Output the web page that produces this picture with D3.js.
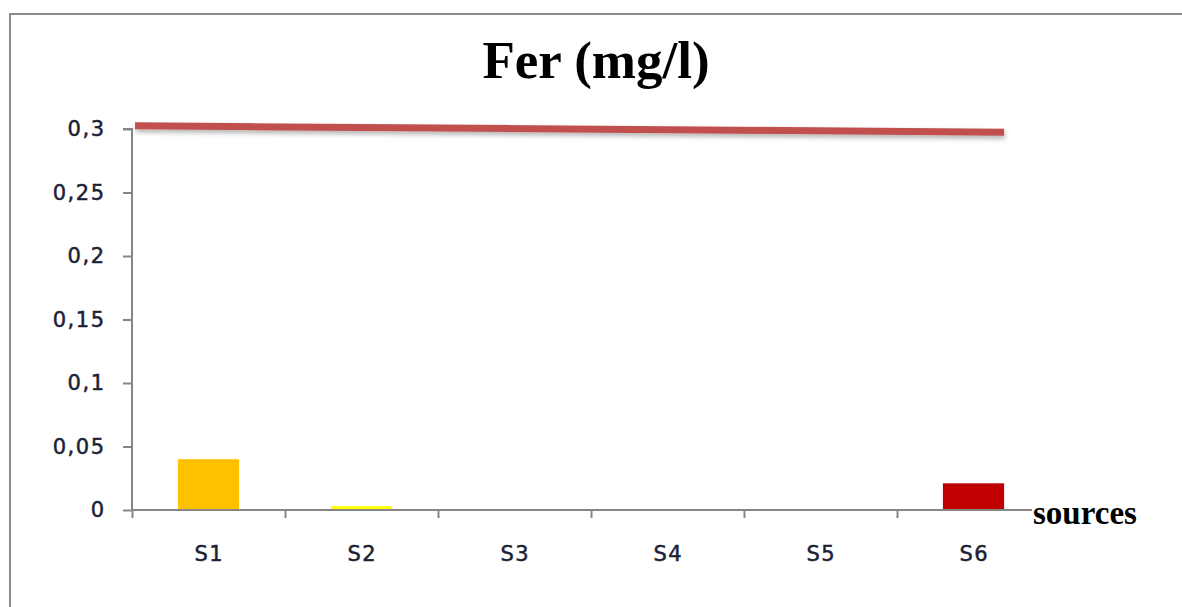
<!DOCTYPE html>
<html><head><meta charset="utf-8">
<script src="https://cdn.jsdelivr.net/npm/d3@7"></script>
<style>html,body{margin:0;padding:0;background:#fff;}svg{display:block;}</style>
</head><body>
<svg id="c" width="1182" height="607"></svg>
<script>
const categories = ["S1","S2","S3","S4","S5","S6"];
const values = [0.04, 0.003, 0, 0, 0, 0.021];
const barColors = ["#FFC000","#FFFF00","#FFC000","#FFC000","#FFC000","#C00000"];
const yTicks = [0, 0.05, 0.1, 0.15, 0.2, 0.25, 0.3];
const yTickLabels = ["0","0,05","0,1","0,15","0,2","0,25","0,3"];
// limit line: [category position (0..6), value]
const limitLine = [[0.02, 0.3025], [5.7, 0.2975]];
const title = "Fer (mg/l)";
const xTitle = "sources";

const svg = d3.select("#c");
const L = 132, R = 1050, T = 129, B = 510;
const labelFont = "'DejaVu Sans', Verdana, sans-serif";
const labelColor = "#1c2235";

const defs = svg.append("defs");
const f = defs.append("filter").attr("id","sh").attr("x","-5%").attr("y","-300%").attr("width","110%").attr("height","700%");
f.append("feGaussianBlur").attr("in","SourceAlpha").attr("stdDeviation",2.5);
f.append("feOffset").attr("dx",1).attr("dy",3).attr("result","b");
f.append("feComponentTransfer").append("feFuncA").attr("type","linear").attr("slope",0.3);
const m = f.append("feMerge"); m.append("feMergeNode"); m.append("feMergeNode").attr("in","SourceGraphic");

// frame
svg.append("path").attr("d","M10,607 V14 H1182").attr("fill","none").attr("stroke","#8a8a8a").attr("stroke-width",2);

const x = d3.scaleBand().domain(categories).range([L, R]).paddingInner(0).paddingOuter(0);
const xl = d3.scaleLinear().domain([0, categories.length]).range([L, R]);
const y = d3.scaleLinear().domain([0, 0.3]).range([B, T]);

// bars
svg.append("g").selectAll("rect").data(categories).join("rect")
  .attr("x", d => x(d) + x.bandwidth()*0.3)
  .attr("width", x.bandwidth()*0.4)
  .attr("y", (d,i) => y(values[i]))
  .attr("height", (d,i) => B - y(values[i]))
  .attr("fill", (d,i) => barColors[i]);

// y axis
const ya = svg.append("g").attr("transform",`translate(${L},0)`)
  .call(d3.axisLeft(y).tickValues(yTicks).tickFormat((d,i)=>yTickLabels[i]).tickSize(9).tickPadding(17.5));
ya.select(".domain").attr("stroke","#868686").attr("stroke-width",2).attr("d",`M-9,${T}H0V${B}`);
ya.selectAll(".tick line").attr("stroke","#868686").attr("stroke-width",2);
ya.selectAll(".tick text").attr("fill",labelColor).attr("stroke",labelColor).attr("stroke-width",0.5)
  .style("letter-spacing","1.5px").style("font-family",labelFont).style("font-size","21px");

// x axis
const xa = svg.append("g").attr("transform",`translate(0,${B})`)
  .call(d3.axisBottom(xl).tickValues(d3.range(categories.length+1)).tickFormat("").tickSize(8).tickSizeOuter(0));
xa.select(".domain").attr("stroke","#868686").attr("stroke-width",2).attr("d",`M${L},0H${R}`);
xa.selectAll(".tick line").attr("stroke","#868686").attr("stroke-width",2);
svg.append("g").selectAll("text").data(categories).join("text")
  .attr("x", d => x(d) + x.bandwidth()/2 + 0.75).attr("y", B + 51)
  .attr("text-anchor","middle").attr("fill",labelColor).attr("stroke",labelColor).attr("stroke-width",0.5)
  .style("letter-spacing","1.5px").style("font-family",labelFont).style("font-size","21px")
  .text(d => d);

// limit line
svg.append("line")
  .attr("x1", xl(limitLine[0][0])).attr("y1", y(limitLine[0][1]))
  .attr("x2", xl(limitLine[1][0])).attr("y2", y(limitLine[1][1]))
  .attr("stroke","#C0504D").attr("stroke-width",7).attr("filter","url(#sh)");

// x title with white background over axis end
const bg = svg.append("rect").attr("fill","#fff");
const xt = svg.append("text").attr("x", 1033).attr("y", B + 14)
  .style("font-family","'Liberation Serif', 'Times New Roman', serif").style("font-weight","bold").style("font-size","33px")
  .attr("fill","#000").text(xTitle);
const bb = xt.node().getBBox();
bg.attr("x", bb.x-1).attr("y", B-3).attr("width", R - bb.x + 10).attr("height", 8);

// title
svg.append("text").attr("x", 596).attr("y", 78).attr("text-anchor","middle")
  .style("font-family","'Liberation Serif', 'Times New Roman', serif").style("font-weight","bold").style("font-size","53px")
  .attr("fill","#000").text(title);
</script>
</body></html>
